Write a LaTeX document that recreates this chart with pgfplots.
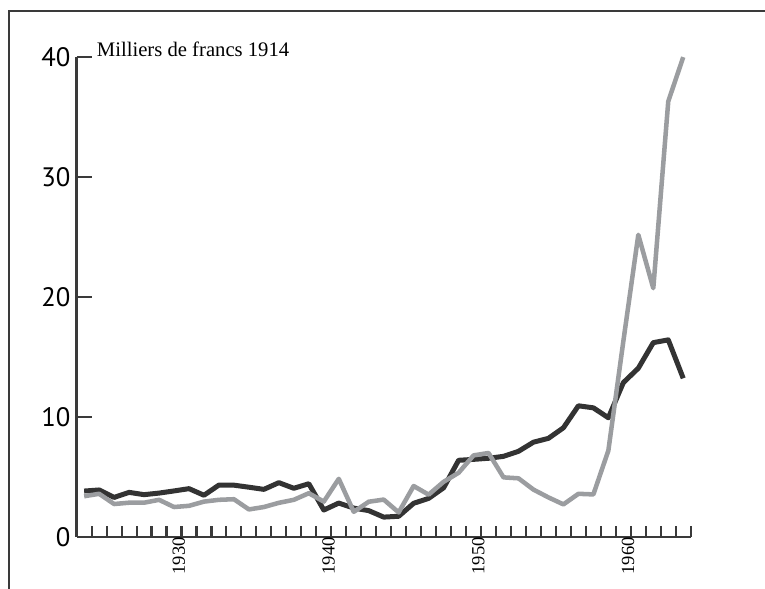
\documentclass[border=0pt]{standalone}
\usepackage{pgfplots}
\pgfplotsset{compat=1.18}
\usepackage{fontspec}
\setmainfont{Liberation Serif}
\newfontfamily\ticksans{PT Sans}

\definecolor{framegray}{HTML}{3A3A3A}
\definecolor{darkline}{HTML}{333333}
\definecolor{lightline}{HTML}{9B9DA0}

% Annual series, plotted at mid-year
\pgfplotstableread{
x      dark   light
1923.5 3.83   3.40
1924.5 3.92   3.60
1925.5 3.30   2.75
1926.5 3.72   2.86
1927.5 3.53   2.86
1928.5 3.66   3.10
1929.5 3.84   2.50
1930.5 4.03   2.60
1931.5 3.48   2.95
1932.5 4.33   3.10
1933.5 4.32   3.15
1934.5 4.15   2.30
1935.5 3.97   2.50
1936.5 4.53   2.85
1937.5 4.06   3.10
1938.5 4.44   3.65
1939.5 2.25   2.95
1940.5 2.83   4.85
1941.5 2.41   2.10
1942.5 2.20   2.94
1943.5 1.66   3.12
1944.5 1.73   2.05
1945.5 2.81   4.25
1946.5 3.22   3.53
1947.5 4.10   4.60
1948.5 6.39   5.35
1949.5 6.47   6.80
1950.5 6.56   7.00
1951.5 6.72   4.97
1952.5 7.14   4.89
1953.5 7.90   3.95
1954.5 8.22   3.30
1955.5 9.10   2.72
1956.5 10.93  3.60
1957.5 10.76  3.55
1958.5 9.93   7.20
1959.5 12.86  16.30
1960.5 14.06  25.17
1961.5 16.19  20.72
1962.5 16.42  36.28
1963.5 13.22  39.97
}\datatable

\begin{document}
\begin{tikzpicture}
\useasboundingbox (-57.5pt,-38.25pt) rectangle (516.2pt,402.75pt);
% surrounding frame; it runs past the right and lower edges of the page
\draw[framegray, line width=1.6pt] (-50.8pt,-60pt) -- (-50.8pt,394.5pt) -- (540pt,394.5pt);
\begin{axis}[
  scale only axis,
  width=460.5pt, height=360.2pt,
  xmin=1923, xmax=1964, ymin=0, ymax=40,
  axis lines*=left,
  axis line style={framegray, line width=2pt},
  every tick/.style={framegray, line width=1.6pt},
  tick align=inside,
  % year ticks are drawn as minor ticks; the labelled major ones are hidden
  xtick={1930,1940,1950,1960},
  major x tick style={draw=none},
  minor xtick={1924,...,1964},
  major tick length=11.25pt,
  minor tick length=8.5pt,
  ytick={0,10,20,30,40},
  xticklabel style={rotate=90, anchor=base east, inner sep=0pt, yshift=-2.5pt,
    font=\fontsize{13.9}{14}\selectfont},
  yticklabel style={anchor=east, inner sep=0pt, xshift=-4.5pt,
    font=\fontsize{20}{20}\ticksans},
  /pgf/number format/assume math mode=true,
  /pgf/number format/1000 sep={},
  clip=false,
]
\addplot[darkline, line width=3.75pt, line join=round] table[x=x, y=dark] {\datatable};
\addplot[lightline, line width=3.4pt, line join=round] table[x=x, y=light] {\datatable};
\node[anchor=base west, inner sep=0pt, font=\fontsize{15.5}{16}\selectfont]
  at (rel axis cs:0,1) [xshift=15pt] {Milliers de francs 1914};
\end{axis}
\end{tikzpicture}
\end{document}
